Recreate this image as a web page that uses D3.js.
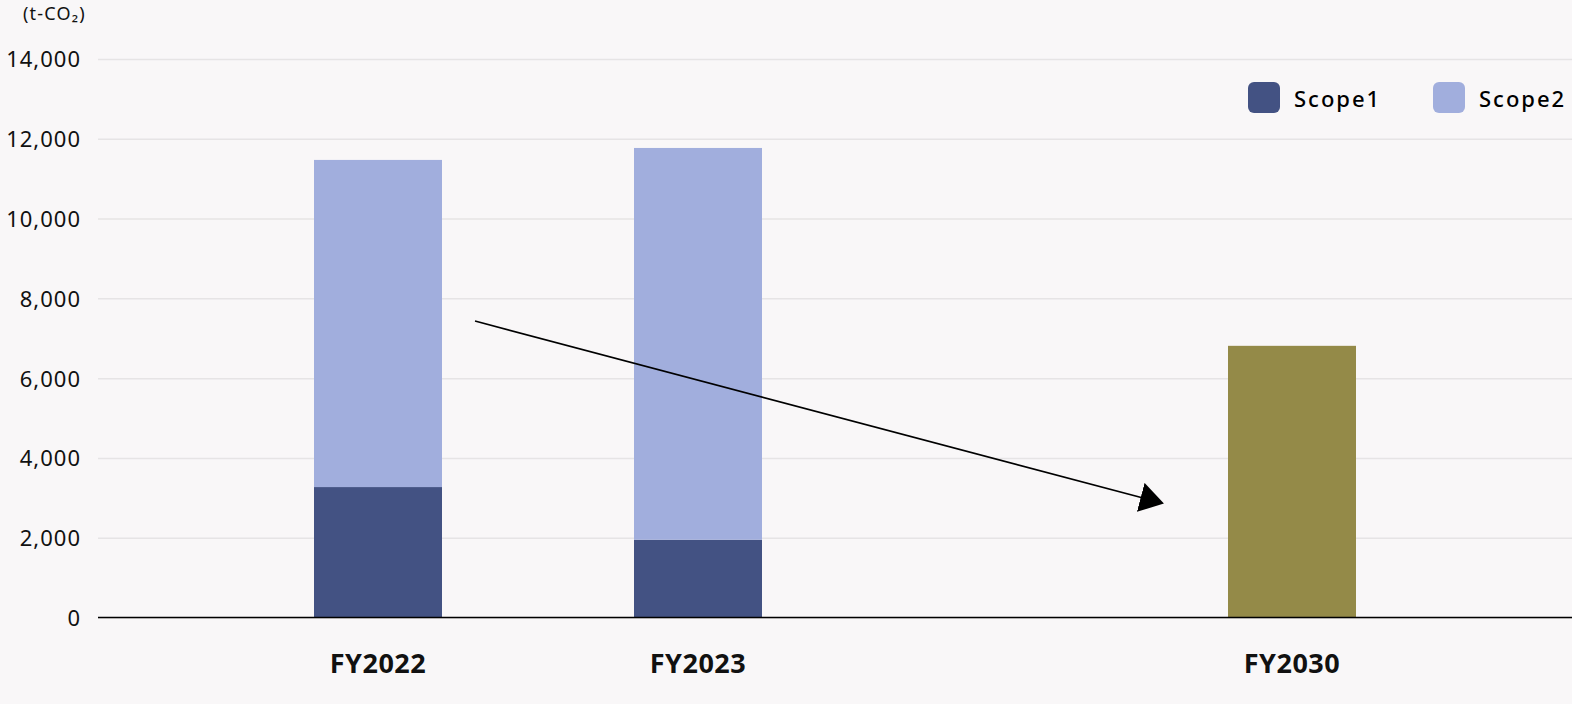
<!DOCTYPE html>
<html>
<head>
<meta charset="utf-8">
<script src="https://cdn.jsdelivr.net/npm/d3@7"></script>
<style>
  html, body { margin: 0; padding: 0; background: #f9f7f8; }
  svg { display: block; font-family: "Noto Sans", sans-serif; }
</style>
</head>
<body>
<div id="chart"></div>
<script>
// values (t-CO2)
var categories = ['FY2022', 'FY2023', 'FY2030'];
var scope1 = [3270, 1950, 0];
var scope2 = [8200, 9820, 0];
var target = [0, 0, 6810];
var yTicks = [0, 2000, 4000, 6000, 8000, 10000, 12000, 14000];
var legendKeys = ['Scope1', 'Scope2'];

var width = 1572, height = 704;
var margin = {top: 59, right: 0, bottom: 87, left: 98};
var barWidth = 128;

var colors = {Scope1: '#435283', Scope2: '#a1aedd', target: '#948a48'};

var svg = d3.select('#chart')
    .append('svg')
    .attr('width', width)
    .attr('height', height);

var y = d3.scaleLinear()
    .domain([0, 14000])
    .range([height - margin.bottom + 0.5, margin.top]);

// bar centres are not evenly spaced in the original
var x = d3.scaleOrdinal()
    .domain(categories)
    .range([378, 698, 1292]);

// grid + y labels
var yAxis = svg.append('g')
    .attr('transform', 'translate(' + margin.left + ',0)')
    .call(d3.axisLeft(y)
        .tickValues(yTicks)
        .tickFormat(d3.format(','))
        .tickSize(-(width - margin.left))
        .tickPadding(17))
    .attr('font-family', null)
    .attr('font-size', null);
yAxis.select('.domain').remove();
yAxis.selectAll('.tick line')
    .attr('stroke', '#e6e4e5')
    .attr('stroke-width', 1.5);
yAxis.selectAll('.tick text')
    .attr('fill', '#111')
    .style('font-size', '22px')
    .style('letter-spacing', '1px')
    .attr('dy', '0.36em');

// unit label
svg.append('text')
    .attr('x', 23)
    .attr('y', 20)
    .attr('fill', '#111')
    .style('font-size', '18px')
    .style('letter-spacing', '1.2px')
    .text('(t-CO\u2082)');

// stacked bars
var rows = categories.map(function(c, i) {
  return {cat: c, Scope1: scope1[i], Scope2: scope2[i], target: target[i]};
});
var stack = d3.stack().keys(['Scope1', 'Scope2', 'target'])(rows);

svg.append('g')
    .selectAll('g')
    .data(stack)
    .enter()
    .append('g')
    .attr('fill', function(s) { return colors[s.key]; })
    .selectAll('rect')
    .data(function(s) { return s.filter(function(d) { return d[1] > d[0]; }); })
    .enter()
    .append('rect')
    .attr('x', function(d) { return x(d.data.cat) - barWidth / 2; })
    .attr('y', function(d) { return y(d[1]); })
    .attr('width', barWidth)
    .attr('height', function(d) { return y(d[0]) - y(d[1]); });

// x axis
var xAxis = svg.append('g')
    .attr('transform', 'translate(0,' + y(0) + ')');
xAxis.append('line')
    .attr('x1', margin.left)
    .attr('x2', width)
    .attr('stroke', '#000')
    .attr('stroke-width', 1.6);
xAxis.selectAll('text')
    .data(categories)
    .enter()
    .append('text')
    .attr('x', function(d) { return x(d); })
    .attr('y', 55)
    .attr('text-anchor', 'middle')
    .attr('fill', '#111')
    .style('font-size', '27px')
    .style('font-weight', 'bold')
    .style('letter-spacing', '0.5px')
    .text(function(d) { return d; });

// reduction arrow
svg.append('defs').append('marker')
    .attr('id', 'head')
    .attr('viewBox', '0 0 24 30')
    .attr('refX', 22)
    .attr('refY', 15)
    .attr('markerWidth', 24)
    .attr('markerHeight', 30)
    .attr('markerUnits', 'userSpaceOnUse')
    .attr('orient', 'auto')
    .append('path')
    .attr('d', 'M0,0L24,15L0,30Z')
    .attr('fill', '#000');

svg.append('line')
    .attr('x1', x('FY2022') + 97)
    .attr('y1', y(7430))
    .attr('x2', x('FY2030') - 130)
    .attr('y2', y(2870))
    .attr('stroke', '#000')
    .attr('stroke-width', 1.6)
    .attr('marker-end', 'url(#head)');

// legend
var legend = svg.append('g')
    .selectAll('g')
    .data(legendKeys)
    .enter()
    .append('g')
    .attr('transform', function(d, i) { return 'translate(' + (1248 + i * 185) + ',82)'; });
legend.append('rect')
    .attr('width', 32)
    .attr('height', 31)
    .attr('rx', 6)
    .attr('fill', function(d) { return colors[d]; });
legend.append('text')
    .attr('x', 46)
    .attr('y', 24.5)
    .attr('fill', '#000')
    .style('font-size', '22px')
    .style('font-weight', 500)
    .style('letter-spacing', '2px')
    .text(function(d) { return d; });
</script>
</body>
</html>
